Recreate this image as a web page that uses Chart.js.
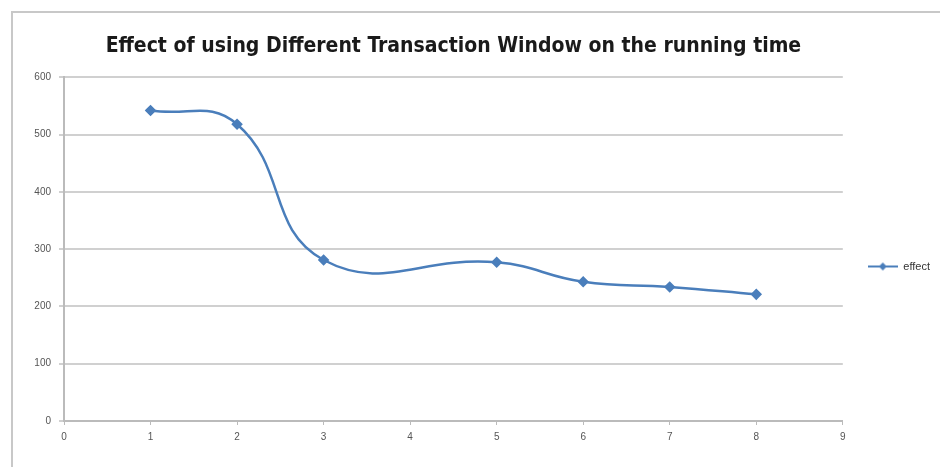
<!DOCTYPE html>
<html>
<head>
<meta charset="utf-8">
<script src="https://cdn.jsdelivr.net/npm/chart.js@4.4.1/dist/chart.umd.min.js"></script>
<style>
  html, body { margin: 0; padding: 0; background: #fff; }
  #wrap { position: relative; width: 940px; height: 467px; }
  #frame { position: absolute; left: 11px; top: 11px; right: 0; bottom: 0;
           border-left: 2px solid #c8c8c8; border-top: 2px solid #c8c8c8; }
  canvas { position: absolute; left: 0; top: 0; }
</style>
</head>
<body>
<div id="wrap">
  <div id="frame"></div>
  <canvas id="chart" width="940" height="467"></canvas>
</div>
<script>
// values
const windowSizes = [1, 2, 3, 5, 6, 7, 8];
const runningTime = [542, 518, 281, 277, 243, 234, 221];
const xTicks = [0, 1, 2, 3, 4, 5, 6, 7, 8, 9];
const yTicks = [0, 100, 200, 300, 400, 500, 600];

const lineColor = '#4a7ebb';

// legend marker: short line with a diamond in the middle
function legendMarker() {
    const c = document.createElement('canvas');
    c.width = 30; c.height = 10;
    const g = c.getContext('2d');
    g.strokeStyle = lineColor;
    g.lineWidth = 2;
    g.beginPath(); g.moveTo(0, 5); g.lineTo(30, 5); g.stroke();
    g.fillStyle = lineColor;
    g.beginPath(); g.moveTo(15, 1); g.lineTo(19, 5); g.lineTo(15, 9); g.lineTo(11, 5); g.closePath(); g.fill();
    return c;
}
const marker = legendMarker();

const ctx = document.getElementById('chart').getContext('2d');
new Chart(ctx, {
    type: 'line',
    data: {
        datasets: [{
            label: 'effect',
            data: windowSizes.map((x, i) => ({ x: x, y: runningTime[i] })),
            borderColor: lineColor,
            backgroundColor: lineColor,
            borderWidth: 2.5,
            tension: 0.45,
            pointStyle: 'rectRot',
            pointRadius: 4,
            pointBackgroundColor: lineColor,
            pointBorderColor: lineColor
        }]
    },
    options: {
        responsive: false,
        animation: false,
        layout: { padding: { left: 14, right: 0, top: 12, bottom: 18 } },
        plugins: {
            title: {
                display: true,
                fullSize: false,
                text: 'Effect of using Different Transaction Window on the running time',
                color: '#1a1a1a',
                font: { family: "'DejaVu Sans Condensed', 'Liberation Sans', sans-serif", size: 21, weight: 'bold' },
                padding: { top: 22, bottom: 18 }
            },
            legend: {
                position: 'right',
                title: { display: true, text: ' ', font: { size: 10 }, padding: { top: 60, bottom: 0 } },
                labels: {
                    color: '#333',
                    font: { family: 'Liberation Sans', size: 11 },
                    usePointStyle: true,
                    pointStyleWidth: 30,
                    padding: 25,
                    generateLabels: (chart) => [{
                        text: 'effect',
                        pointStyle: marker,
                        fontColor: '#333',
                        datasetIndex: 0
                    }]
                }
            },
            tooltip: { enabled: false }
        },
        scales: {
            x: {
                type: 'linear',
                min: 0,
                max: 9,
                afterBuildTicks: (axis) => { axis.ticks = xTicks.map(v => ({ value: v })); },
                grid: { display: true, drawOnChartArea: false, drawTicks: true, tickLength: 4, color: '#bbb' },
                border: { color: '#bbb', width: 2 },
                ticks: { color: '#555', font: { family: 'Liberation Sans', size: 10 }, padding: 6 }
            },
            y: {
                min: 0,
                max: 600,
                afterBuildTicks: (axis) => { axis.ticks = yTicks.map(v => ({ value: v })); },
                afterFit: (axis) => { axis.width = 50; },
                grid: { color: '#d0d0d0', lineWidth: 2, tickLength: 5 },
                border: { color: '#bbb', width: 2 },
                ticks: { color: '#555', font: { family: 'Liberation Sans', size: 10 }, padding: 8 }
            }
        }
    }
});
</script>
</body>
</html>
